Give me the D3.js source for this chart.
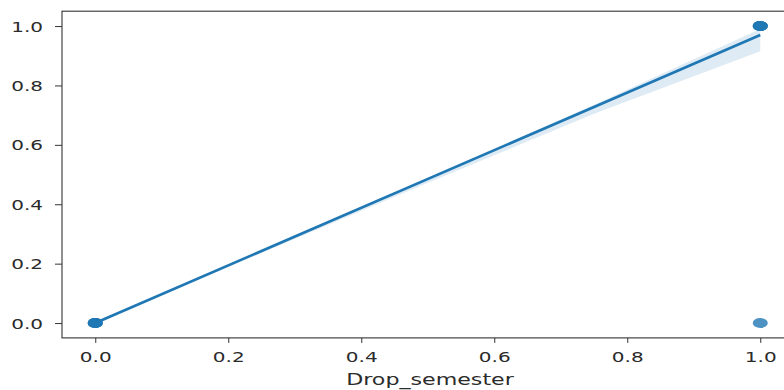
<!DOCTYPE html>
<html><head><meta charset="utf-8">
<script src="https://cdn.jsdelivr.net/npm/d3@7/dist/d3.min.js"></script>
<style>html,body{margin:0;padding:0;background:#fff;overflow:hidden}</style>
</head><body>
<svg id="c" width="784" height="390"></svg>
<script>
// ---- data ----
const pointX = [0, 1, 1];
const pointY = [0, 1, 0];
const pointCount = [4, 4, 1];
const lineX = [0, 1];
const lineY = [0.0, 0.97];
const bandX = [0, 0.25, 0.5, 0.75, 1];
const bandLow = [-0.004, 0.236, 0.472, 0.705, 0.915];
const bandHigh = [0.004, 0.246, 0.488, 0.735, 0.99];
const xTicks = [0.0, 0.2, 0.4, 0.6, 0.8, 1.0];
const yTicks = [0.0, 0.2, 0.4, 0.6, 0.8, 1.0];
const xLabel = "Drop_semester";

// ---- layout ----
const svg = d3.select("#c");
const SX = 1.43; // horizontal stretch of the reference image
const x = d3.scaleLinear().domain([-0.05, 1.05]).range([62, 793.5]);
const y = d3.scaleLinear().domain([-0.05, 1.05]).range([337.9, 11.2]);
const blue = "#1f77b4";
const txt = "#2b2b2b";
const font = "'DejaVu Sans', sans-serif";

// band
const area = d3.area().x((d,i)=>x(bandX[i])).y0((d,i)=>y(bandLow[i])).y1((d,i)=>y(bandHigh[i]));
svg.append("path").datum(bandX).attr("d", area).attr("fill", blue).attr("fill-opacity", 0.15);

// points
pointX.forEach((px,i)=>{
  for(let k=0;k<pointCount[i];k++){
    svg.append("ellipse").attr("cx", x(px)).attr("cy", y(pointY[i]))
      .attr("rx", 7.5).attr("ry", 5).attr("fill", blue).attr("fill-opacity", 0.8);
  }
});

// regression line
const line = d3.line().x((d,i)=>x(lineX[i])).y((d,i)=>y(lineY[i]));
svg.append("path").datum(lineX).attr("d", line).attr("fill","none")
  .attr("stroke", blue).attr("stroke-width", 2.6);

// spines
const [x0,x1] = x.range(), [y0,y1] = y.range();
svg.append("rect").attr("x", x0).attr("y", y1).attr("width", x1-x0).attr("height", y0-y1)
  .attr("fill","none").attr("stroke", "#333").attr("stroke-width", 1.1);

// x axis
const gx = svg.append("g").attr("transform", `translate(0,${y0})`)
  .call(d3.axisBottom(x).tickValues(xTicks).tickFormat(d3.format(".1f")).tickSize(5).tickPadding(9));
gx.select(".domain").remove();
gx.selectAll(".tick line").attr("stroke", "#333");
gx.selectAll(".tick text").attr("font-family", font).attr("font-size", 14).attr("fill", txt)
  .attr("transform", `scale(${SX},1)`).attr("x", 0);

// y axis
const gy = svg.append("g").attr("transform", `translate(${x0},0)`)
  .call(d3.axisLeft(y).tickValues(yTicks).tickFormat(d3.format(".1f")).tickSize(7).tickPadding(0));
gy.select(".domain").remove();
gy.selectAll(".tick line").attr("stroke", "#333");
gy.selectAll(".tick text").attr("font-family", font).attr("font-size", 14).attr("fill", txt)
  .attr("x", -19/SX).attr("dy", "0.36em").attr("transform", `scale(${SX},1)`);

// x label
svg.append("text").attr("transform", `translate(430,385) scale(${SX},1)`)
  .attr("text-anchor","middle").attr("font-family", font).attr("font-size", 15.5)
  .attr("fill", txt).text(xLabel);
</script>
</body></html>
